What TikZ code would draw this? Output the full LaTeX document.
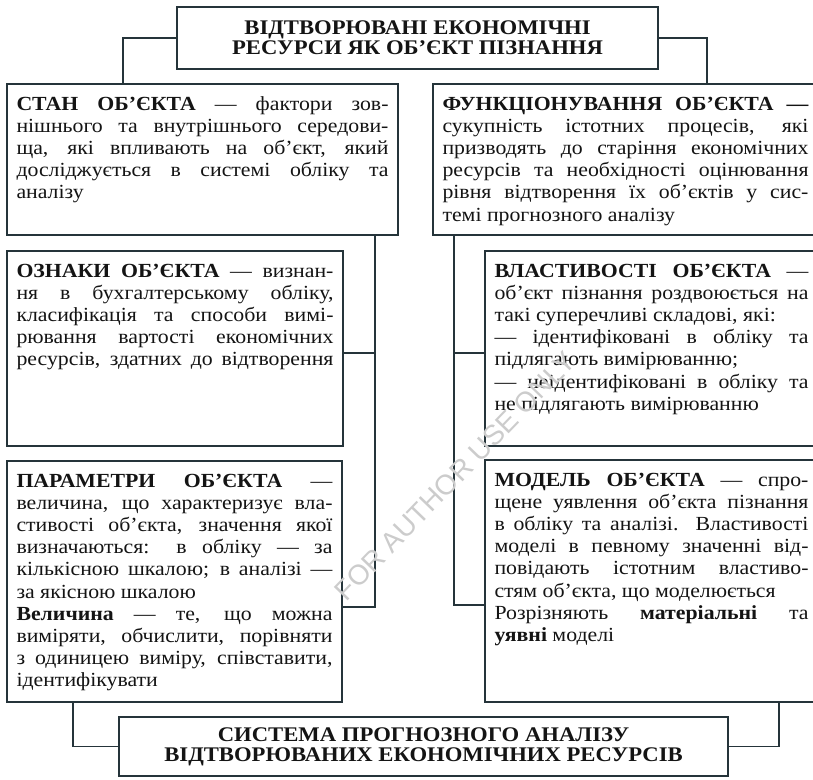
\documentclass[tikz,border=0pt]{standalone}
\usepackage{fontspec}
\setmainfont{Liberation Serif}[FakeStretch=1.09]
\newfontfamily\wmfont{Liberation Sans}

\definecolor{frame}{HTML}{25343A}
\definecolor{ink}{HTML}{141414}

% one justified line / one natural (last) line of a panel text
\newcommand\panelstrut{\vrule height15pt depth5pt width0pt}
\newcommand\jline[1]{\hbox to\hsize{\panelstrut #1}}
\newcommand\eline[1]{\hbox{\panelstrut #1}}
% text block of a panel: height, width, lines
\newcommand\panelbody[3]{\parbox[c][#1][t]{#2}{\vspace*{11pt}#3}}

\tikzset{
  panel/.style={draw=frame, line width=1.5pt, fill=white, anchor=north west,
    inner xsep=9.5pt, inner ysep=0pt, outer sep=0pt, text=ink,
    font=\fontsize{20}{22.2}\selectfont},
  headbox/.style={draw=frame, line width=1.5pt, fill=white, anchor=north west,
    inner sep=0pt, outer sep=0pt, align=center, text=ink,
    font=\bfseries\fontsize{20.8}{20}\selectfont},
  link/.style={draw=frame, line width=1.5pt},
}

\begin{document}
\begin{tikzpicture}[x=1pt, y=-1pt]
\useasboundingbox (0,0) rectangle (813,779);
\clip (0,0) rectangle (813,779);
\fill[white] (0,0) rectangle (813,779);

% headings
\node[headbox, minimum width=481pt, minimum height=62pt] (top) at (177,7)
  {ВІДТВОРЮВАНІ ЕКОНОМІЧНІ\\РЕСУРСИ ЯК ОБ’ЄКТ ПІЗНАННЯ};
\node[headbox, minimum width=609pt, minimum height=59pt] (bottom) at (119,717)
  {СИСТЕМА ПРОГНОЗНОГО АНАЛІЗУ\\ВІДТВОРЮВАНИХ ЕКОНОМІЧНИХ РЕСУРСІВ};

% left column
\node[panel] (stan) at (7,84) {\panelbody{151pt}{372pt}{%
  \jline{\textbf{СТАН ОБ’ЄКТА} — фактори зов-}
  \jline{нішнього та внутрішнього середови-}
  \jline{ща, які впливають на об’єкт, який}
  \jline{досліджується в системі обліку та}
  \eline{аналізу}}};

\node[panel] (ozn) at (7,251) {\panelbody{195pt}{317pt}{%
  \jline{\textbf{ОЗНАКИ ОБ’ЄКТА} — визнан-}
  \jline{ня в бухгалтерському обліку,}
  \jline{класифікація та способи вимі-}
  \jline{рювання вартості економічних}
  \jline{ресурсів, здатних до відтворення}}};

\node[panel] (param) at (7,461) {\panelbody{241pt}{316pt}{%
  \jline{\textbf{ПАРАМЕТРИ ОБ’ЄКТА} —}
  \jline{величина, що характеризує вла-}
  \jline{стивості об’єкта, значення якої}
  \jline{визначаються: в обліку — за}
  \jline{кількісною шкалою; в аналізі —}
  \eline{за якісною шкалою}
  \jline{\textbf{Величина} — те, що можна}
  \jline{виміряти, обчислити, порівняти}
  \jline{з одиницею виміру, співставити,}
  \eline{ідентифікувати}}};

% right column
\node[panel] (funk) at (433,84) {\panelbody{151pt}{366pt}{%
  \jline{\textbf{ФУНКЦІОНУВАННЯ ОБ’ЄКТА —}}
  \jline{сукупність істотних процесів, які}
  \jline{призводять до старіння економічних}
  \jline{ресурсів та необхідності оцінювання}
  \jline{рівня відтворення їх об’єктів у сис-}
  \eline{темі прогнозного аналізу}}};

\node[panel] (vlast) at (485,251) {\panelbody{195pt}{314pt}{%
  \jline{\textbf{ВЛАСТИВОСТІ ОБ’ЄКТА} —}
  \jline{об’єкт пізнання роздвоюється на}
  \eline{такі суперечливі складові, які:}
  \jline{— ідентифіковані в обліку та}
  \eline{підлягають вимірюванню;}
  \jline{— неідентифіковані в обліку та}
  \eline{не підлягають вимірюванню}}};

\node[panel] (model) at (485,460) {\panelbody{242pt}{314pt}{%
  \jline{\textbf{МОДЕЛЬ ОБ’ЄКТА} — спро-}
  \jline{щене уявлення об’єкта пізнання}
  \jline{в обліку та аналізі. Властивості}
  \jline{моделі в певному значенні від-}
  \jline{повідають істотним властиво-}
  \eline{стям об’єкта, що моделюється}
  \jline{Розрізняють \textbf{матеріальні} та}
  \eline{\textbf{уявні} моделі}}};

% connectors from the top heading
\draw[link] (top.west) -| ([xshift=116pt]stan.north west);
\draw[link] (top.east) -| ([xshift=274pt]funk.north west);

% left spine
\coordinate (lv) at ([xshift=368pt]stan.south west);
\draw[link] (lv) |- ([yshift=-146pt]param.north east);
\draw[link] ([yshift=-102pt]ozn.north east) -| (lv);

% right spine
\coordinate (rv) at ([xshift=21pt]funk.south west);
\draw[link] (rv) |- ([yshift=-145pt]model.north west);
\draw[link] ([yshift=-102pt]vlast.north west) -| (rv);

% connectors to the bottom heading
\draw[link] ([xshift=66pt]param.south west) |- (bottom.west);
\draw[link] ([xshift=294pt]model.south west) |- (bottom.east);

% watermark
\node[rotate=46, text=black!20, font=\wmfont\fontsize{28}{28}\selectfont] (wm)
  at (455,476) {FOR AUTHOR USE ONLY};
\end{tikzpicture}
\end{document}
